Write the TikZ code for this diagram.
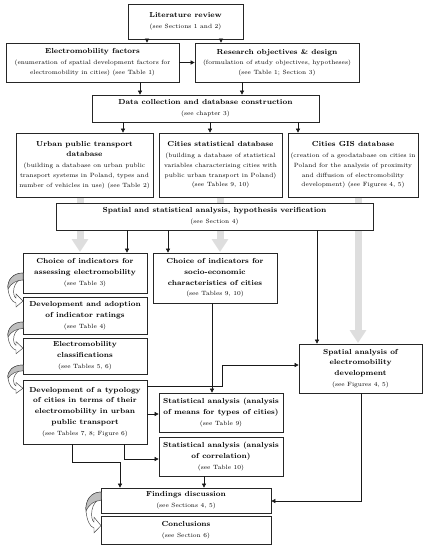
\documentclass[tikz,border=0pt]{standalone}
\usetikzlibrary{arrows.meta}
\newcommand\T[1]{{\fontsize{7.3}{10}\bfseries\selectfont #1}}
\newcommand\mybox[6]{%
  \node[box, minimum width={(#4-#2)*1pt}, minimum height={(#5-#3)*1pt}] (#1) at ({(#2+#4)/2},{(#3+#5)/2}) {#6};}
\newcommand\curv[3]{%
  \begin{scope}[shift={(#1,#2)}, yscale=#3/30]
    \filldraw[fill=white, draw=black!75, line width=0.45pt]
      (0,0) .. controls (-10,0) and (-16,7) .. (-15,16)
      .. controls (-14,24) and (-11,29) .. (-7,30) -- (-7,34) -- (0,28) -- (-7,21) -- (-7,25)
      .. controls (-9,24) and (-10,20) .. (-9,15) .. controls (-8,10) and (-4,6) .. (0,6) -- cycle;
    \filldraw[fill=black!25, draw=black!75, line width=0.45pt]
      (0,0) .. controls (-10,0) and (-16,7) .. (-15,16)
      .. controls (-12,10) and (-6,7) .. (0,7) -- cycle;
  \end{scope}}
\begin{document}
\begin{tikzpicture}[x=1pt,y=-1pt,
  box/.style={draw=black!85, line width=0.7pt, fill=white, align=center, inner sep=0pt,
    font=\fontsize{6.1}{9.8}\selectfont},
  arr/.style={-{Triangle[length=4pt,width=4pt]}, line width=0.6pt, draw=black!90},
  garr/.style={-{Triangle[length=13pt,width=16pt]}, line width=7pt, draw=black!13}]
\useasboundingbox (0,0) rectangle (428,550);
\fill[white] (0,0) rectangle (428,550);
% gray thick arrows (behind boxes)
\coordinate (g1a) at (80,196); \coordinate (g1b) at (80,252);
\coordinate (g2a) at (220,196); \coordinate (g2b) at (220,252);
\coordinate (g3a) at (358,196); \coordinate (g3b) at (358,343);
\draw[garr] (g1a) -- (g1b);
\draw[garr] (g2a) -- (g2b);
\draw[garr] (g3a) -- (g3b);
% boxes
\mybox{lit}{128}{4}{243}{39}{\T{Literature review}\\[1pt](see Sections 1 and 2)}
\mybox{ef}{6}{43}{179}{82}{\T{Electromobility factors}\\[1pt](enumeration of spatial development factors for\\electromobility in cities) (see Table 1)}
\mybox{ro}{195}{43}{359}{82}{\T{Research objectives \& design}\\[1pt](formulation of study objectives, hypotheses)\\(see Table 1; Section 3)}
\mybox{dc}{92}{95}{319}{122}{\T{Data collection and database construction}\\[1pt](see chapter 3)}
\mybox{upt}{16}{133}{153}{197}{\T{Urban public transport}\\[1pt]\T{database}\\[1pt](building a database on urban public\\transport systems in Poland, types and\\number of vehicles in use) (see Table 2)}
\mybox{csd}{159}{133}{282}{197}{\T{Cities statistical database}\\[1pt](building a database of statistical\\variables characterising cities with\\public urban transport in Poland)\\(see Tables 9, 10)}
\mybox{gis}{288}{133}{418}{197}{\T{Cities GIS database}\\[1pt](creation of a geodatabase on cities in\\Poland for the analysis of proximity\\and diffusion of electromobility\\development) (see Figures 4, 5)}
\mybox{ssa}{56}{203}{373}{230}{\T{Spatial and statistical analysis, hypothesis verification}\\[1pt](see Section 4)}
\mybox{ci}{23}{253}{147}{293}{\T{Choice of indicators for}\\[1pt]\T{assessing electromobility}\\[1pt](see Table 3)}
\mybox{cs}{153}{253}{277}{303}{\T{Choice of indicators for}\\[1pt]\T{socio-economic}\\[1pt]\T{characteristics of cities}\\[1pt](see Tables 9, 10)}
\mybox{da}{23}{297}{147}{334}{\T{Development and adoption}\\[1pt]\T{of indicator ratings}\\[1pt](see Table 4)}
\mybox{ec}{23}{338}{147}{374}{\T{Electromobility}\\[1pt]\T{classifications}\\[1pt](see Tables 5, 6)}
\mybox{ty}{23}{380}{147}{444}{\T{Development of a typology}\\[1pt]\T{of cities in terms of their}\\[1pt]\T{electromobility in urban}\\[1pt]\T{public transport}\\[1pt](see Tables 7, 8; Figure 6)}
\mybox{sa}{299}{344}{422}{393}{\T{Spatial analysis of}\\[1pt]\T{electromobility}\\[1pt]\T{development}\\[1pt](see Figures 4, 5)}
\mybox{sm}{159}{393}{283}{432}{\T{Statistical analysis (analysis}\\[1pt]\T{of means for types of cities)}\\[1pt](see Table 9)}
\mybox{sc}{159}{437}{283}{476}{\T{Statistical analysis (analysis}\\[1pt]\T{of correlation)}\\[1pt](see Table 10)}
\mybox{fd}{101}{488}{271}{513}{\T{Findings discussion}\\[1pt](see Sections 4, 5)}
\mybox{co}{101}{516}{271}{544}{\T{Conclusions}\\[1pt](see Section 6)}
% black connectors
\draw[arr] (147,0 |- lit.south) -- (147,0 |- ef.north);
\draw[arr] (221,0 |- lit.south) -- (221,0 |- ro.north);
\draw[arr] (ef.east) -- (ro.west);
\draw[arr] (140,0 |- ef.south) -- (140,0 |- dc.north);
\draw[arr] (242,0 |- ro.south) -- (242,0 |- dc.north);
\draw[arr] (123,0 |- dc.south) -- (123,0 |- upt.north);
\draw[arr] (210,0 |- dc.south) -- (210,0 |- csd.north);
\draw[arr] (298,0 |- dc.south) -- (298,0 |- gis.north);
\draw[arr] (127,0 |- ssa.south) -- (127,0 |- ci.north);
\draw[arr] (168,0 |- ssa.south) -- (168,0 |- cs.north);
\draw[arr] (317,0 |- ssa.south) -- (317,0 |- sa.north);
\draw[arr] (212,0 |- cs.south) -- (212,0 |- sm.north);
\draw[arr] (ty.east |- 0,386) -- (222,386) -- (222,365) -- (sa.west |- 0,365);
\draw[arr] (ty.east |- 0,414) -- (sm.west |- 0,414);
\draw[arr] (124,0 |- ty.south) -- (124,459) -- (sc.west |- 0,459);
\draw[arr] (72,0 |- ty.south) -- (72,462) -- (120,462) -- (120,0 |- fd.north);
\draw[arr] (204,0 |- sc.south) -- (204,0 |- fd.north);
\draw[arr] (361,0 |- sa.south) -- (361,501) -- (fd.east |- 0,501);
% curved arrows
\curv{23}{273}{30}
\curv{23}{322}{28}
\curv{23}{365}{25}
\curv{101}{492}{36}
\end{tikzpicture}
\end{document}
